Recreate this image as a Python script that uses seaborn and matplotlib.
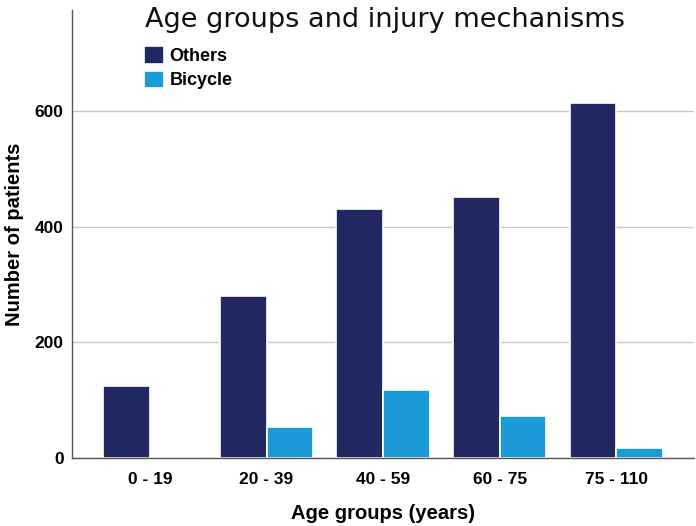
import matplotlib
matplotlib.use("Agg")
import matplotlib.pyplot as plt
import seaborn as sns
import pandas as pd

# data
age_groups = ["0 - 19", "20 - 39", "40 - 59", "60 - 75", "75 - 110"]
others = [125, 280, 430, 452, 614]
bicycle = [2, 54, 118, 73, 17]
mechanisms = ["Others", "Bicycle"]
colors = ["#222862", "#1a9bd7"]

df = pd.DataFrame({
    "age": age_groups * 2,
    "mechanism": [mechanisms[0]] * len(age_groups) + [mechanisms[1]] * len(age_groups),
    "count": others + bicycle,
})

sns.set_style("white")
plt.rcParams["font.family"] = ["Liberation Sans", "DejaVu Sans"]
plt.rcParams["text.color"] = "black"
plt.rcParams["axes.labelcolor"] = "black"
plt.rcParams["xtick.color"] = "black"
plt.rcParams["ytick.color"] = "black"

fig = plt.figure(figsize=(6.96, 5.26), dpi=100)
ax = fig.add_axes([0.1034, 0.129, 0.894, 0.852])

sns.barplot(data=df, x="age", y="count", hue="mechanism", order=age_groups,
            hue_order=mechanisms, palette=colors, width=0.8, saturation=1,
            edgecolor="white", linewidth=1.2, ax=ax)

ax.set_xlim(-0.67, 4.67)
ax.set_ylim(0, 775)
ax.set_yticks([0, 200, 400, 600])
ax.yaxis.grid(True, color="#c8c8c8", linewidth=1)
ax.set_axisbelow(True)
for s in ["top", "right"]:
    ax.spines[s].set_visible(False)
for s in ["left", "bottom"]:
    ax.spines[s].set_color("#555555")
    ax.spines[s].set_linewidth(1)
ax.tick_params(axis="y", length=0, labelsize=12.5, pad=6)
ax.tick_params(axis="x", length=0, labelsize=12.5, pad=10)
for lab in ax.get_xticklabels() + ax.get_yticklabels():
    lab.set_fontweight("bold")

ax.set_xlabel("Age groups (years)", fontsize=14.5, fontweight="bold", labelpad=12)
ax.set_ylabel("Number of patients", fontsize=14.5, fontweight="bold", labelpad=8)

fig.text(0.553, 0.987, "Age groups and injury mechanisms", ha="center", va="top",
         fontsize=19.5, family=["DejaVu Sans"], color="#111111")

ax.legend(title=None, loc="upper left", bbox_to_anchor=(0.09, 0.955), frameon=False,
          handlelength=1.1, handleheight=1.1, handletextpad=0.3, labelspacing=0.3,
          prop={"weight": "bold", "size": 13})

fig.savefig("out.png", dpi=100)
